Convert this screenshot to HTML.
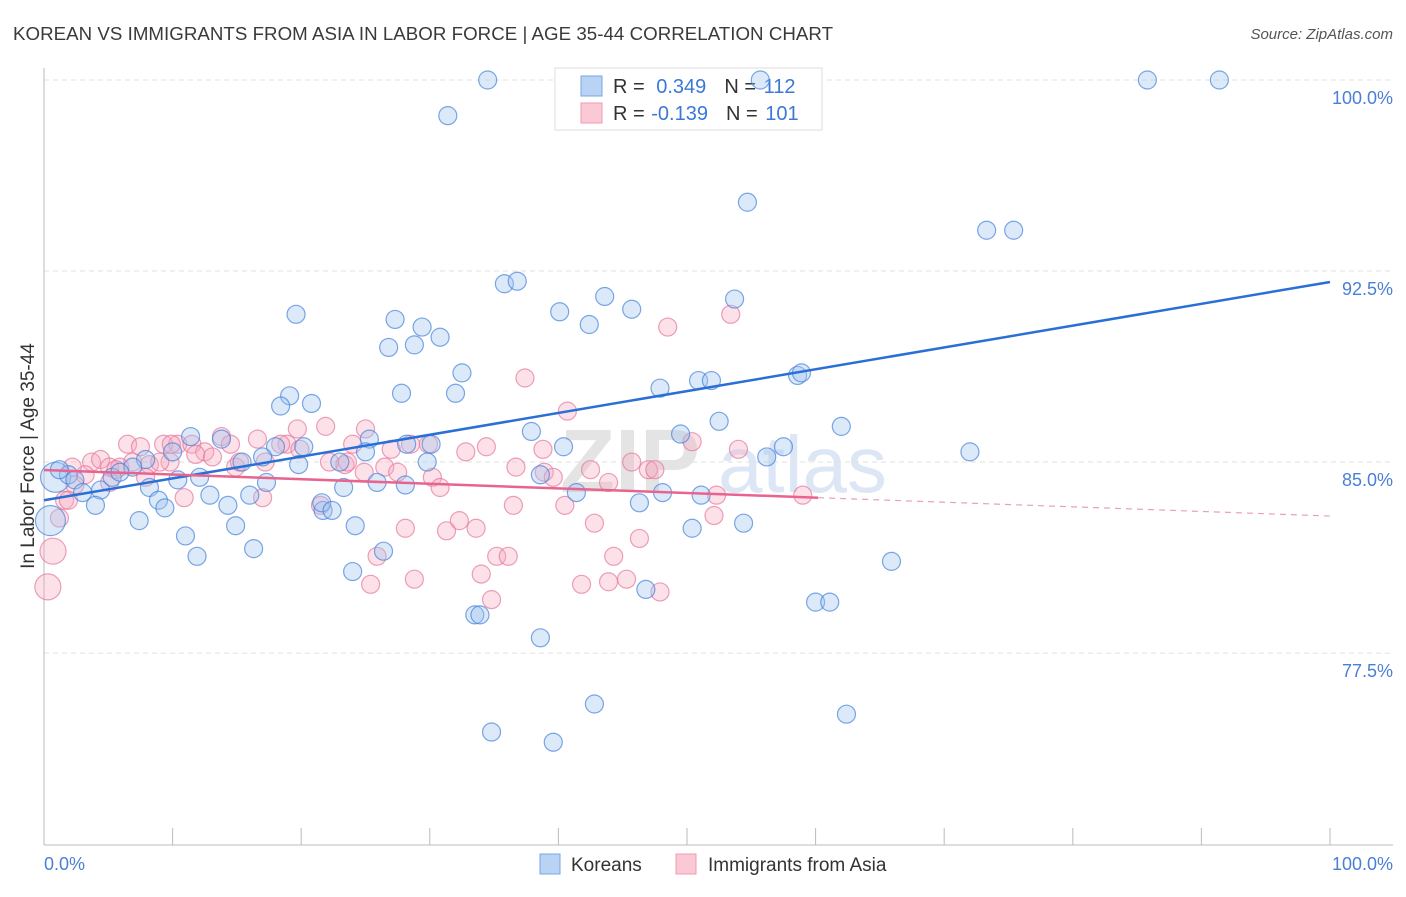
<!DOCTYPE html>
<html><head><meta charset="utf-8">
<style>
body{margin:0;background:#fff;font-family:"Liberation Sans",sans-serif;}
svg text{font-family:"Liberation Sans",sans-serif;}
</style></head>
<body>
<svg id="chart" width="1406" height="892" viewBox="0 0 1406 892" xmlns="http://www.w3.org/2000/svg">
<text x="13" y="40" font-size="18.7" fill="#3a3a3a" textLength="820">KOREAN VS IMMIGRANTS FROM ASIA IN LABOR FORCE | AGE 35-44 CORRELATION CHART</text>
<text x="1393" y="39" font-size="15" fill="#555" font-style="italic" text-anchor="end">Source: ZipAtlas.com</text>
<text x="560" y="492" font-size="90" fill="#e4e4e4" font-weight="bold">ZIP</text>
<text x="718" y="492" font-size="80" fill="#dce6f5">atlas</text>
<g id="grid"></g>
<g id="axes"></g>
<g>
<rect x="555" y="68" width="267" height="62" fill="#fff" stroke="#ddd"/>
<rect x="581" y="76" width="21" height="20" fill="#b9d3f5" stroke="#7aa6e3"/>
<rect x="581" y="103" width="21" height="20" fill="#fbc9d6" stroke="#ec9bb3"/>
<text x="613" y="93" font-size="20" fill="#333">R = <tspan fill="#3b78d8" dx="6">0.349</tspan><tspan dx="18" fill="#333">N = </tspan><tspan fill="#3b78d8" dx="2">112</tspan></text>
<text x="613" y="120" font-size="20" fill="#333">R = <tspan fill="#3b78d8" dx="1">-0.139</tspan><tspan dx="18" fill="#333">N = </tspan><tspan fill="#3b78d8" dx="2">101</tspan></text>
</g>
<g id="pink"></g>
<g id="blue"></g>
<g id="trends"></g>
<text x="34" y="456" font-size="19" fill="#333" text-anchor="middle" transform="rotate(-90 34 456)">In Labor Force | Age 35-44</text>
<text x="44" y="870" font-size="18" fill="#4a7fd6">0.0%</text>
<text x="1393" y="870" font-size="18" fill="#4a7fd6" text-anchor="end">100.0%</text>
<g>
<rect x="540" y="854" width="20" height="20" fill="#b9d3f5" stroke="#7aa6e3"/>
<text x="571" y="871" font-size="19" fill="#333">Koreans</text>
<rect x="676" y="854" width="20" height="20" fill="#fbc9d6" stroke="#ec9bb3"/>
<text x="708" y="871" font-size="19" fill="#333">Immigrants from Asia</text>
</g>
</svg>
<script>
const yTicks=[100,92.5,85,77.5];
const yTickLabels=["100.0%","92.5%","85.0%","77.5%"];
const xTicks=[10,20,30,40,50,60,70,80,90,100];
const blueX=[34.5,55.7,85.8,91.4,31.4,54.7,73.3,75.4,35.8,36.8,43.6,40.1,45.7,42.4,53.7,19.6,27.3,29.4,30.8,26.8,28.8,32.5,32.0,27.8,19.1,18.4,20.8,47.9,50.9,51.9,58.6,58.9,52.5,62.0,37.9,49.5,40.4,57.5,56.2,72.0,11.4,13.8,18.0,20.2,25.3,25.0,28.2,30.1,7.9,6.9,10.0,15.4,17.0,19.8,23.0,29.8,38.6,41.4,48.1,51.1,54.4,50.4,65.9,60.0,61.1,46.8,33.5,33.9,38.6,42.8,62.4,34.8,39.6,0.9,1.9,2.4,3.0,4.4,5.3,5.9,8.2,8.9,9.4,10.4,12.1,12.9,14.3,14.9,16.0,16.3,17.3,21.7,21.6,22.4,23.3,24.2,24.0,26.4,25.9,28.1,11.0,11.9,7.4,4.0,0.5,46.3,1.2];
const blueY=[100,100,100,100,98.6,95.2,94.1,94.1,92.0,92.1,91.5,90.9,91.0,90.4,91.4,90.8,90.6,90.3,89.9,89.5,89.6,88.5,87.7,87.7,87.6,87.2,87.3,87.9,88.2,88.2,88.4,88.5,86.6,86.4,86.2,86.1,85.6,85.6,85.2,85.4,86.0,85.9,85.6,85.6,85.9,85.4,85.7,85.7,85.1,84.8,85.4,85.0,85.2,84.9,85.0,85.0,84.5,83.8,83.8,83.7,82.6,82.4,81.1,79.5,79.5,80.0,79.0,79.0,78.1,75.5,75.1,74.4,74.0,84.4,84.5,84.3,83.8,83.9,84.4,84.6,84.0,83.5,83.2,84.3,84.4,83.7,83.3,82.5,83.7,81.6,84.2,83.1,83.4,83.1,84.0,82.5,80.7,81.5,84.2,84.1,82.1,81.3,82.7,83.3,82.7,83.4,84.7];
const blueWeight=[1,1,1,1,1,1,1,1,1,1,1,1,1,1,1,1,1,1,1,1,1,1,1,1,1,1,1,1,1,1,1,1,1,1,1,1,1,1,1,1,1,1,1,1,1,1,1,1,1,1,1,1,1,1,1,1,1,1,1,1,1,1,1,1,1,1,1,1,1,1,1,1,1,3,1,1,1,1,1,1,1,1,1,1,1,1,1,1,1,1,1,1,1,1,1,1,1,1,1,1,1,1,1,1,3,1,1];
const pinkX=[48.5,53.4,37.4,40.7,6.5,7.5,9.3,10.4,11.5,12.5,13.8,14.5,16.6,18.9,19.7,21.9,24.0,25.0,27.0,29.9,34.4,32.8,38.8,42.5,45.7,47.0,47.5,50.4,54.0,3.7,4.4,5.1,5.9,6.9,8.2,9.8,11.8,13.1,14.9,17.2,18.4,19.9,22.2,23.4,24.9,26.5,27.5,28.5,30.2,30.8,36.5,36.7,38.9,39.6,40.5,43.9,52.3,52.1,59.0,17.0,10.9,7.9,1.6,1.2,0.7,0.3,21.5,23.6,28.1,25.9,25.4,28.8,31.3,32.3,33.6,34.0,34.8,35.2,36.1,41.8,42.8,43.9,45.3,44.3,46.3,47.9,5.1,5.6,15.2,9.9,9.0,3.2,2.4,2.2,1.9];
const pinkY=[90.3,90.8,88.3,87.0,85.7,85.6,85.7,85.7,85.7,85.4,86.0,85.7,85.9,85.7,86.3,86.4,85.7,86.3,85.5,85.7,85.6,85.4,85.5,84.7,85.0,84.7,84.7,85.8,85.5,85.0,85.1,84.8,84.8,85.0,84.9,85.0,85.3,85.2,84.8,85.0,85.7,85.5,85.0,84.9,84.6,84.8,84.6,85.7,84.4,84.0,83.3,84.8,84.6,84.4,83.3,84.2,83.7,82.9,83.7,83.6,83.6,84.4,83.5,82.8,81.5,80.1,83.3,85.0,82.4,81.3,80.2,80.4,82.3,82.7,82.4,80.6,79.6,81.3,81.3,80.2,82.6,80.3,80.4,81.3,82.0,79.9,84.2,84.7,85.0,85.7,85.0,84.5,84.1,84.8,83.5];
const pinkWeight=[1,1,1,1,1,1,1,1,1,1,1,1,1,1,1,1,1,1,1,1,1,1,1,1,1,1,1,1,1,1,1,1,1,1,1,1,1,1,1,1,1,1,1,1,1,1,1,1,1,1,1,1,1,1,1,1,1,1,1,1,1,1,1,1,2,2,1,1,1,1,1,1,1,1,1,1,1,1,1,1,1,1,1,1,1,1,1,1,1,1,1,1,1,1,1];
const blueTrend=[83.5,0.0857];
const pinkTrend=[84.69,-0.0181];
const pinkSolidEnd=60.2;

const NS="http://www.w3.org/2000/svg";
const X0=44,X1=1330,Y100=80,PXPER=25.47;
function sx(v){return X0+(X1-X0)*v/100;}
function sy(v){return Y100+(100-v)*PXPER;}
function mk(tag,attrs,parent){const e=document.createElementNS(NS,tag);for(const k in attrs)e.setAttribute(k,attrs[k]);parent.appendChild(e);return e;}

const grid=document.getElementById('grid');
yTicks.forEach((t,i)=>{
  const l=mk('line',{x1:44,x2:1393,y1:sy(t),y2:sy(t),stroke:'#e2e2e2','stroke-dasharray':'5,4'},grid);
  
  
  const tx=mk('text',{x:1393,y:sy(t)+24,'font-size':18,fill:'#4a7fd6','text-anchor':'end'},grid);
  tx.textContent=yTickLabels[i];
  
  
});
const axes=document.getElementById('axes');
let a=mk('line',{x1:44,x2:44,y1:68,y2:845,stroke:'#bbb'},axes);


a=mk('line',{x1:44,x2:1393,y1:845,y2:845,stroke:'#bbb'},axes);


xTicks.forEach(t=>{
  const l=mk('line',{x1:sx(t),x2:sx(t),y1:828,y2:845,stroke:'#bbb'},axes);
  
  
});
function drawPts(xs,ys,ws,g,fill,stroke,name){
  xs.forEach((x,i)=>{
    const c=mk('circle',{cx:sx(x),cy:sy(ys[i]),r:ws[i]>2?15:(ws[i]>1?13:9),fill:fill,stroke:stroke,'stroke-width':1.2},g);
    
    
  });
}
drawPts(pinkX,pinkY,pinkWeight,document.getElementById('pink'),'rgba(246,170,192,0.35)','rgba(230,120,155,0.7)','immigrants-point');
drawPts(blueX,blueY,blueWeight,document.getElementById('blue'),'rgba(160,196,240,0.38)','rgba(70,130,220,0.7)','koreans-point');
const tr=document.getElementById('trends');
const f=(t,x)=>t[0]+t[1]*x;
let l=mk('line',{x1:sx(0),y1:sy(f(blueTrend,0)),x2:sx(100),y2:sy(f(blueTrend,100)),stroke:'#2a6fd6','stroke-width':2.5},tr);


l=mk('line',{x1:sx(0),y1:sy(f(pinkTrend,0)),x2:sx(pinkSolidEnd),y2:sy(f(pinkTrend,pinkSolidEnd)),stroke:'#e8648f','stroke-width':2.5},tr);


l=mk('line',{x1:sx(pinkSolidEnd),y1:sy(f(pinkTrend,pinkSolidEnd)),x2:sx(100),y2:sy(f(pinkTrend,100)),stroke:'#e8a0b8','stroke-width':1.2,'stroke-dasharray':'6,5'},tr);


</script>
</body></html>
